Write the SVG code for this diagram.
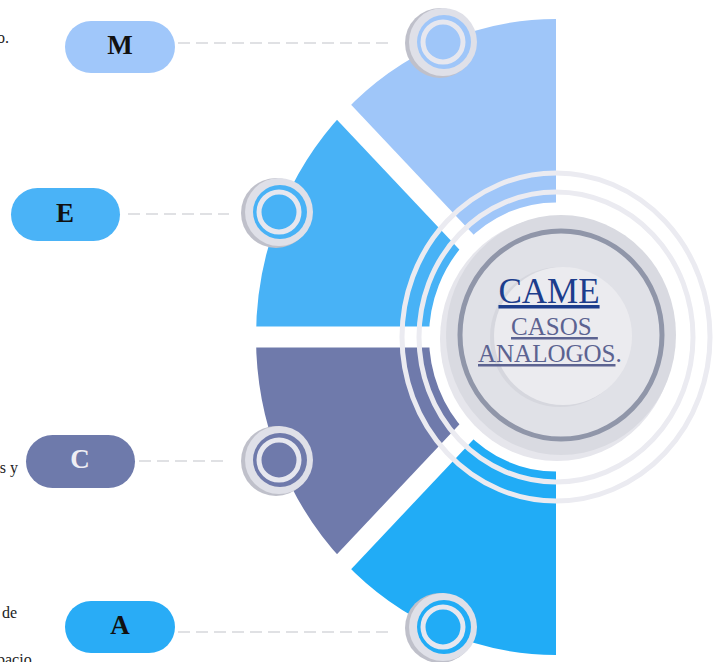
<svg xmlns="http://www.w3.org/2000/svg" width="714" height="662" viewBox="0 0 714 662">
<style>
.frag{font-family:"Liberation Serif","Times New Roman",serif;font-size:16px;fill:#222}
.pilltxt{font-family:"Liberation Serif","Times New Roman",serif;font-size:27px;font-weight:bold;text-anchor:middle}
.dash{stroke:#d6d7dc;stroke-width:1.5;stroke-dasharray:12 6;fill:none}
.gap{stroke:#ffffff;stroke-width:20;stroke-linecap:butt}
.ring{fill:none;stroke:#ebebf1;stroke-width:5}
.btnShadow{fill:#bfc0ca}
.btnBase{fill:#dfe0e8}
.btnRing{fill:none;stroke:#e6e7ef;stroke-width:5}
.ctr{font-family:"Liberation Serif","Times New Roman",serif;text-decoration:underline}
</style>
<rect width="714" height="662" fill="#ffffff"/>

<!-- cut-off fragments at left edge -->
<text class="frag" x="9" y="43" text-anchor="end">o.</text>
<text class="frag" x="18" y="473" text-anchor="end">s y</text>
<text class="frag" x="17" y="618" text-anchor="end">de</text>
<text class="frag" x="-3" y="665">pacio</text>

<!-- sectors -->
<g transform="translate(556,337) scale(1,1.06)">
  <g id="sector-M"><path d="M0,-300 A300,300 0 0 0 -212.13,-212.13 L-89.8,-89.8 A127,127 0 0 1 0,-127 Z" fill="#9fc6f9"/></g>
  <g id="sector-E"><path d="M-212.13,-212.13 A300,300 0 0 0 -300,0 L-127,0 A127,127 0 0 1 -89.8,-89.8 Z" fill="#48b2f6"/></g>
  <g id="sector-C"><path d="M-300,0 A300,300 0 0 0 -212.13,212.13 L-89.8,89.8 A127,127 0 0 1 -127,0 Z" fill="#6f7aab"/></g>
  <g id="sector-A"><path d="M-212.13,212.13 A300,300 0 0 0 0,300 L0,127 A127,127 0 0 1 -89.8,89.8 Z" fill="#21acf6"/></g>
  <line class="gap" x1="0" y1="0" x2="-232" y2="-232"/>
  <line class="gap" x1="0" y1="0" x2="-330" y2="0"/>
  <line class="gap" x1="0" y1="0" x2="-232" y2="232"/>
</g>

<!-- concentric rings -->
<ellipse class="ring" cx="556" cy="337" rx="137" ry="145"/>
<ellipse class="ring" cx="556" cy="337" rx="154" ry="164"/>

<!-- center -->
<g id="center">
  <ellipse cx="557" cy="339" rx="117" ry="122" fill="#e6e6ec"/>
  <ellipse cx="561" cy="335" rx="115" ry="120" fill="#d9dae1"/>
  <ellipse cx="561" cy="335" rx="101" ry="104" fill="#e0e1e7" stroke="#9096a9" stroke-width="5"/>
  <circle cx="560" cy="337" r="70" fill="#d6d7de"/>
  <circle cx="563" cy="336" r="69" fill="#ebebef"/>
  <text class="ctr" x="549" y="303" text-anchor="middle" font-size="35" fill="#1c3d8c">CAME</text>
  <text class="ctr" x="511" y="335" font-size="25" fill="#5c6391" xml:space="preserve">CASOS </text>
  <text x="478" y="362" font-family="Liberation Serif, Times New Roman, serif" font-size="25" fill="#5c6391"><tspan text-decoration="underline">ANALOGOS</tspan>.</text>
</g>

<!-- connectors -->
<g id="connectors">
  <line class="dash" x1="178" y1="43" x2="392" y2="43"/>
  <line class="dash" x1="128" y1="214" x2="229" y2="214"/>
  <line class="dash" x1="139" y1="461" x2="229" y2="461"/>
  <line class="dash" x1="178" y1="632" x2="392" y2="632"/>
</g>

<!-- buttons on sector edges -->
<g id="btn-M">
  <circle class="btnShadow" cx="440" cy="43" r="35"/>
  <circle class="btnBase" cx="443" cy="42" r="34"/>
  <circle cx="444" cy="42" r="27" fill="#9fc6f9"/>
  <circle class="btnRing" cx="443" cy="42" r="20"/>
</g>
<g id="btn-E">
  <circle class="btnShadow" cx="276" cy="213" r="35"/>
  <circle class="btnBase" cx="279" cy="212" r="34"/>
  <circle cx="280" cy="212" r="27" fill="#48b2f6"/>
  <circle class="btnRing" cx="279" cy="212" r="20"/>
</g>
<g id="btn-C">
  <circle class="btnShadow" cx="276" cy="461" r="35"/>
  <circle class="btnBase" cx="279" cy="460" r="34"/>
  <circle cx="280" cy="460" r="27" fill="#6f7aab"/>
  <circle class="btnRing" cx="279" cy="460" r="20"/>
</g>
<g id="btn-A">
  <circle class="btnShadow" cx="440" cy="628" r="35"/>
  <circle class="btnBase" cx="443" cy="627" r="34"/>
  <circle cx="444" cy="627" r="27" fill="#21acf6"/>
  <circle class="btnRing" cx="443" cy="627" r="20"/>
</g>

<!-- pills -->
<g id="node-M">
  <rect x="65" y="21" width="110" height="52" rx="26" fill="#a0c7fa"/>
  <text class="pilltxt" x="120" y="54" fill="#111111">M</text>
</g>
<g id="node-E">
  <rect x="11" y="188" width="109" height="53" rx="26.5" fill="#4ab3f7"/>
  <text class="pilltxt" x="65" y="222" fill="#111111">E</text>
</g>
<g id="node-C">
  <rect x="26" y="435" width="109" height="53" rx="26.5" fill="#6e7aab"/>
  <text class="pilltxt" x="80" y="468" fill="#eeeef4">C</text>
</g>
<g id="node-A">
  <rect x="65" y="601" width="110" height="52" rx="26" fill="#29acf6"/>
  <text class="pilltxt" x="120" y="634" fill="#111111">A</text>
</g>
</svg>
